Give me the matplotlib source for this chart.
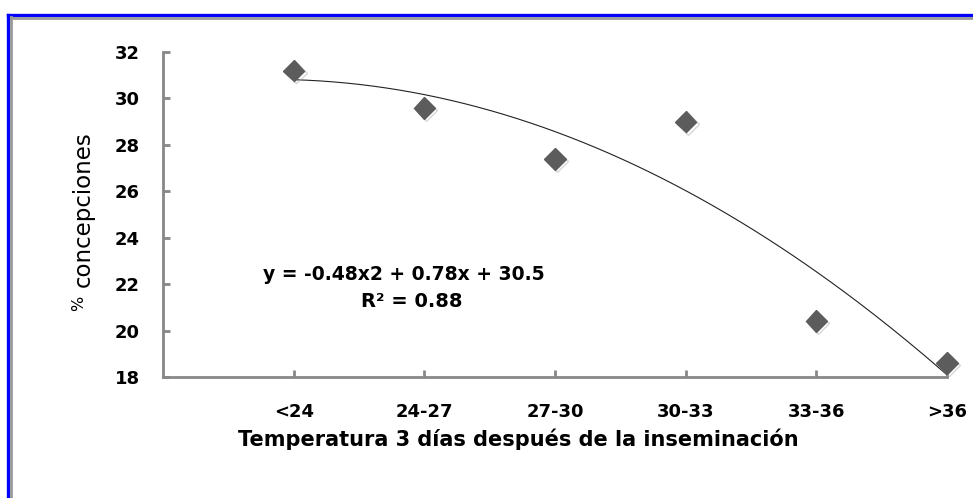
import numpy as np
import matplotlib.pyplot as plt
import matplotlib.patheffects as pe
from matplotlib.lines import Line2D

plt.rcParams['font.family'] = ['DejaVu Sans']

# datos
categorias = ['<24', '24-27', '27-30', '30-33', '33-36', '>36']
concepciones = [31.2, 29.6, 27.4, 29.0, 20.4, 18.6]
ecuacion = 'y = -0.48x2 + 0.78x + 30.5'
r2 = 'R² = 0.88'

W, H = 973, 498
fig = plt.figure(figsize=(W / 100, H / 100), dpi=100)

def px(xp, yp):
    # pixel (desde arriba-izquierda) -> coordenadas de figura
    return xp / W, 1 - yp / H

# marco (solo arriba e izquierda visibles)
fig.add_artist(Line2D([8 / W, 8 / W], [0, 1 - 15 / H], color='#0000ff', lw=2.4))
fig.add_artist(Line2D([8 / W, 1], [1 - 15.5 / H, 1 - 15.5 / H], color='#0000ff', lw=2.4))
fig.add_artist(Line2D([11 / W, 11 / W], [0, 1 - 17.5 / H], color='#999999', lw=2))
fig.add_artist(Line2D([11 / W, 1], [1 - 18 / H, 1 - 18 / H], color='#999999', lw=2))

ax = fig.add_axes([163 / W, 1 - 377 / H, (947 - 163) / W, (377 - 52) / H])

x = np.arange(1, len(categorias) + 1)
y = np.array(concepciones)

# linea de tendencia polinomica (grado 2)
coef = np.polyfit(x, y, 2)
xs = np.linspace(1, 6, 200)
ax.plot(xs, np.polyval(coef, xs), color='#222222', lw=0.8, zorder=2)

ax.plot(x, y, 'D', color='#5c5c5c', markersize=11, mec='#5c5c5c', zorder=3,
        path_effects=[pe.SimpleLineShadow(offset=(1.5, -1.5), shadow_color='#b0b0b0', alpha=0.5),
                      pe.Normal()], clip_on=False)

ax.set_xlim(0, 6)
ax.set_ylim(18, 32)
ax.set_yticks(range(18, 33, 2))
ax.set_xticks(x)
ax.set_xticklabels(categorias)

for s in ['top', 'right']:
    ax.spines[s].set_visible(False)
for s in ['left', 'bottom']:
    ax.spines[s].set_color('#888888')
    ax.spines[s].set_linewidth(2)
ax.tick_params(axis='both', direction='in', length=5, width=2, color='#888888',
               labelsize=13)
ax.tick_params(axis='y', pad=16.5)
ax.tick_params(axis='x', pad=19)
for lab in ax.get_xticklabels() + ax.get_yticklabels():
    lab.set_fontweight('bold')

# titulos de ejes
fig.text(*px(518, 446), 'Temperatura 3 días después de la inseminación', fontsize=15,
         fontweight='bold', ha='center', va='baseline')
fig.text(*px(90, 209), 'concepciones', rotation=90, rotation_mode='anchor',
         fontsize=16.5, ha='center', va='baseline')
fig.text(*px(83, 303), '%', rotation=90, rotation_mode='anchor',
         fontsize=11.5, ha='center', va='baseline')

# ecuacion de la tendencia
ax.text(1.84, 22.18, ecuacion, fontsize=13.5, fontweight='bold', ha='center', va='baseline')
ax.text(1.9, 21.02, r2, fontsize=14, fontweight='bold', ha='center', va='baseline')

fig.savefig('out.png', dpi=100)
